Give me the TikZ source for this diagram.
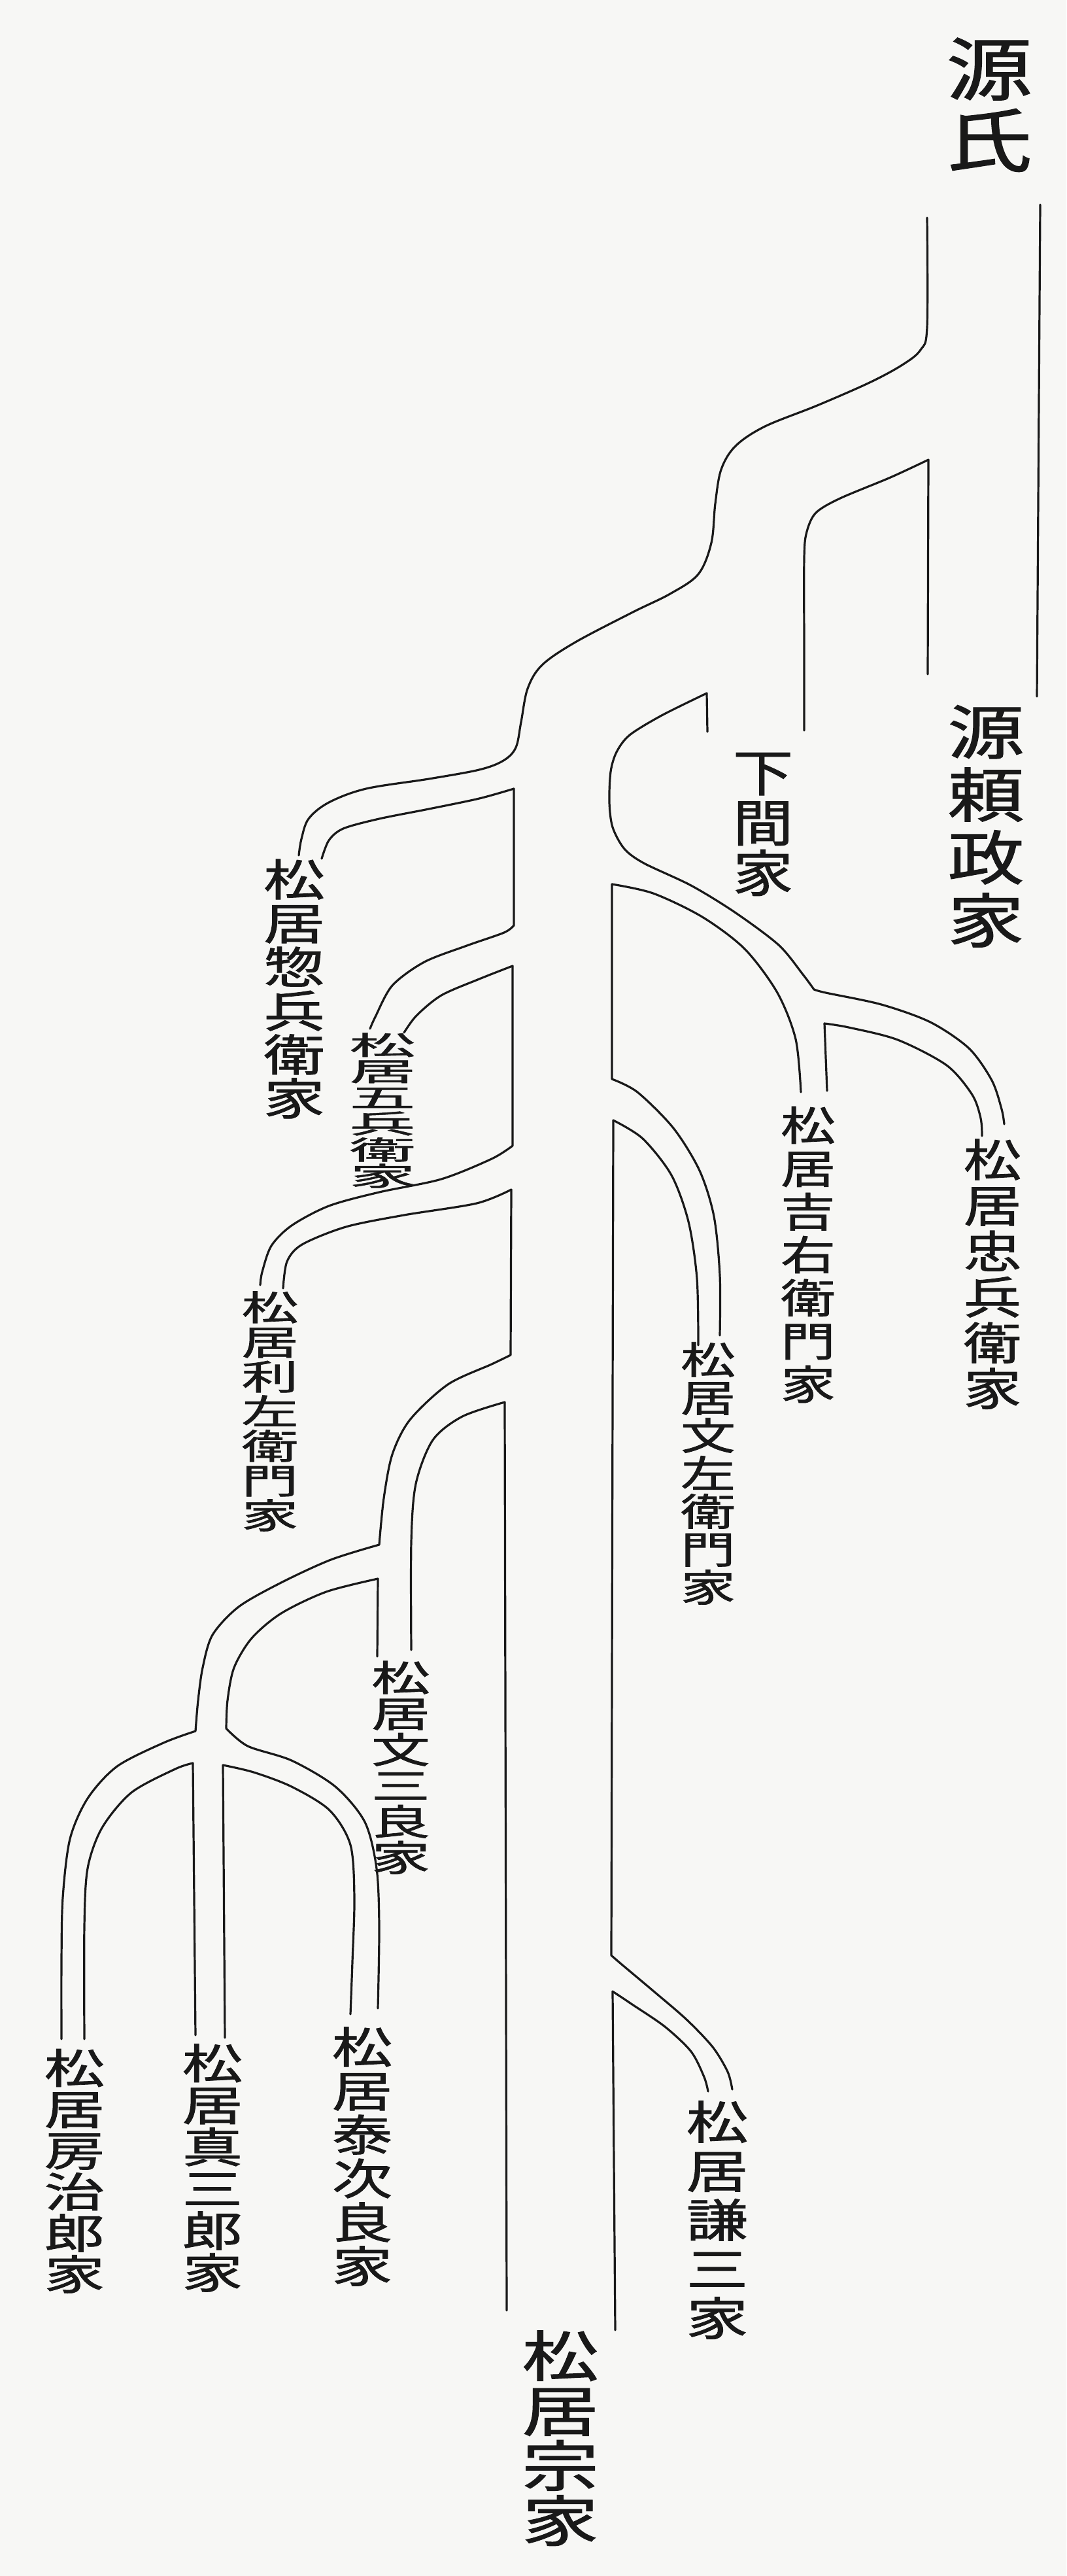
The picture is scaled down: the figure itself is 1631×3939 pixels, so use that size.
\documentclass[tikz,border=0pt]{standalone}
\usepackage{graphicx}
\usepackage{fontspec}
\newfontfamily\cjk[FakeBold=1.2]{Noto Sans CJK JP}
\newcommand\vlab[5]{\scalebox{#3}[#4]{\vtop{\cjk\fontsize{#1}{#2}\selectfont\lineskiplimit=-1000pt\relax\halign{\hfil##\hfil\cr#5\crcr}}}}
\definecolor{paper}{RGB}{247,247,245}
\definecolor{ink}{RGB}{25,25,25}
\begin{document}
\begin{tikzpicture}[x=1pt,y=-1pt,
  ln/.style={draw=ink, line width=3.2pt, line cap=round, line join=round},
  lab/.style={anchor=base, inner sep=0pt, text=ink, font=\cjk}]
\fill[paper] (0,0) rectangle (1631,3939);
\useasboundingbox (0,0) rectangle (1631,3939);

% --- upper trunk ---
\draw[ln] (1591,313) -- (1586,1065);
\draw[ln] plot[smooth,tension=0.55] coordinates {(1418,333) (1418,500) (1408,535) (1380,558) (1330,585) (1250,620) (1170,652) (1125,682) (1103,718) (1094,770) (1088,830) (1068,878) (1025,908) (968,936) (880,982) (829,1017) (807,1053) (797,1104) (789,1143) (770,1163) (733,1177) (656,1191) (560,1206) (503,1227) (472,1252) (461,1283) (457,1308)};
\coordinate (nC) at (1420,703);
\draw[ln] (nC) -- (1419,1031);
\draw[ln] plot[smooth] coordinates {(1420,703) (1362,730) (1285,762) (1248,784) (1234,813) (1230,853) (1230,1000) (1230,1117)};
\coordinate (nD) at (1081,1060);
\draw[ln] (nD) -- (1082,1119);
\draw[ln] plot[smooth] coordinates {(1081,1060) (1012,1094) (963,1124) (943,1150) (934,1180) (932,1227) (937,1265) (955,1298) (985,1320) (1057,1354) (1124,1395) (1191,1445) (1228,1490) (1245,1513)};
\draw[ln] plot[smooth] coordinates {(1245,1513) (1263,1518) (1348,1536) (1423,1563) (1482,1603) (1517,1652) (1532,1696) (1536,1719)};

% --- right branches ---
\draw[ln] plot[smooth] coordinates {(936,1352) (999,1366) (1074,1402) (1139,1451) (1189,1518) (1217,1589) (1225,1670)};
\draw[ln] (936,1352) -- (936,1650) -- plot[smooth] coordinates {(936,1650) (975,1670) (1030,1725) (1070,1790) (1092,1860) (1101,1950) (1101,2042)};
\draw[ln] plot[smooth] coordinates {(1261,1565) (1298,1571) (1373,1590) (1448,1629) (1487,1674) (1500,1710) (1502,1737)};
\draw[ln] (1261,1565) -- (1265,1668);
\draw[ln] plot[smooth] coordinates {(938,1713) (983,1741) (1027,1797) (1053,1868) (1066,1955) (1068,2057)};
\draw[ln] (938,1713) -- (935,2990) -- plot[smooth] coordinates {(935,2990) (950,3003) (1000,3045) (1050,3088) (1090,3130) (1113,3168) (1120,3195)};
\draw[ln] plot[smooth] coordinates {(937,3045) (967,3065) (1017,3099) (1057,3137) (1077,3176) (1083,3198)};
\draw[ln] (937,3045) -- (941,3563);

% --- left branches ---
\draw[ln] plot[smooth] coordinates {(786,1206) (733,1221) (656,1237) (580,1252) (525,1267) (503,1285) (492,1313)};
\draw[ln] (786,1206) -- (786,1415) -- plot[smooth] coordinates {(786,1415) (771,1426) (714,1446) (649,1471) (600,1507) (574,1555) (566,1573)};
\draw[ln] plot[smooth] coordinates {(784,1477) (733,1497) (675,1522) (637,1553) (618,1579)};
\draw[ln] (784,1477) -- (784,1752) -- plot[smooth] coordinates {(784,1752) (752,1772) (675,1803) (580,1823) (503,1844) (446,1874) (415,1905) (401,1945) (398,1965)};
\draw[ln] plot[smooth] coordinates {(782,1819) (729,1840) (618,1858) (529,1876) (462,1903) (439,1929) (433,1970)};
\draw[ln] (782,1819) -- (781,2072) -- plot[smooth] coordinates {(781,2072) (752,2086) (685,2117) (627,2171) (600,2224) (587,2291) (580,2362)};
\draw[ln] plot[smooth] coordinates {(580,2362) (506,2385) (430,2420) (365,2457) (325,2500) (310,2550) (303,2600) (299,2647)};
\draw[ln] plot[smooth] coordinates {(299,2647) (250,2665) (179,2701) (134,2750) (107,2812) (96,2902) (94,3000) (94,3118)};
\draw[ln] plot[smooth] coordinates {(772,2144) (707,2166) (662,2202) (636,2269) (629,2358) (629,2523)};
\draw[ln] (772,2144) -- (775,3533);
\draw[ln] (578,2414) -- (577,2533);
\draw[ln] plot[smooth] coordinates {(578,2414) (499,2434) (430,2467) (385,2505) (358,2550) (348,2600) (346,2643)};
\draw[ln] plot[smooth] coordinates {(346,2643) (379,2670) (446,2692) (513,2732) (558,2786) (576,2857) (580,2946) (578,3071)};
\draw[ln] plot[smooth] coordinates {(295,2696) (268,2705) (201,2741) (156,2795) (134,2857) (129,2946) (129,3118)};
\draw[ln] (295,2696) -- (299,3112);
\draw[ln] (341,2699) -- (344,3116);
\draw[ln] plot[smooth] coordinates {(341,2699) (388,2710) (446,2732) (504,2768) (536,2821) (542,2902) (539,3000) (536,3080)};

% --- labels ---
\node[lab] (genji) at (1513,145) {\vlab{105}{109}{1.25}{1}{源\cr 氏}};
\node[lab] (yorimasa) at (1508,1153) {\vlab{90}{96}{1.3}{1}{源\cr 頼\cr 政\cr 家}};
\node[lab] (shimoma) at (1167,1210) {\vlab{80}{80}{1.15}{0.96}{下\cr 間\cr 家}};
\node[lab] (sobei) at (450,1370) {\vlab{72}{72}{1.3}{0.93}{松\cr 居\cr 惣\cr 兵\cr 衛\cr 家}};
\node[lab] (gohei) at (585,1613) {\vlab{72}{72}{1.4}{0.556}{松\cr 居\cr 五\cr 兵\cr 衛\cr 家}};
\node[lab] (rizaemon) at (413,2019) {\vlab{62}{62}{1.4}{0.855}{松\cr 居\cr 利\cr 左\cr 衛\cr 門\cr 家}};
\node[lab] (kichiemon) at (1236,1744) {\vlab{62}{66}{1.35}{1}{松\cr 居\cr 吉\cr 右\cr 衛\cr 門\cr 家}};
\node[lab] (chubei) at (1518,1799) {\vlab{68}{70}{1.3}{1}{松\cr 居\cr 忠\cr 兵\cr 衛\cr 家}};
\node[lab] (bunzaemon) at (1083,2101) {\vlab{62}{62}{1.35}{0.935}{松\cr 居\cr 文\cr 左\cr 衛\cr 門\cr 家}};
\node[lab] (bunzaburo) at (613,2586) {\vlab{64}{64}{1.4}{0.86}{松\cr 居\cr 文\cr 三\cr 良\cr 家}};
\node[lab] (taijiro) at (554,3155) {\vlab{66}{67}{1.4}{1}{松\cr 居\cr 泰\cr 次\cr 良\cr 家}};
\node[lab] (shinzaburo) at (325,3179) {\vlab{66}{66}{1.4}{0.97}{松\cr 居\cr 真\cr 三\cr 郎\cr 家}};
\node[lab] (fusajiro) at (114,3186) {\vlab{66}{66}{1.4}{0.955}{松\cr 居\cr 房\cr 治\cr 郎\cr 家}};
\node[lab] (kenzo) at (1097,3271) {\vlab{70}{75}{1.35}{1}{松\cr 居\cr 謙\cr 三\cr 家}};
\node[lab] (soke) at (857,3634) {\vlab{90}{90}{1.3}{0.933}{松\cr 居\cr 宗\cr 家}};
\end{tikzpicture}
\end{document}
